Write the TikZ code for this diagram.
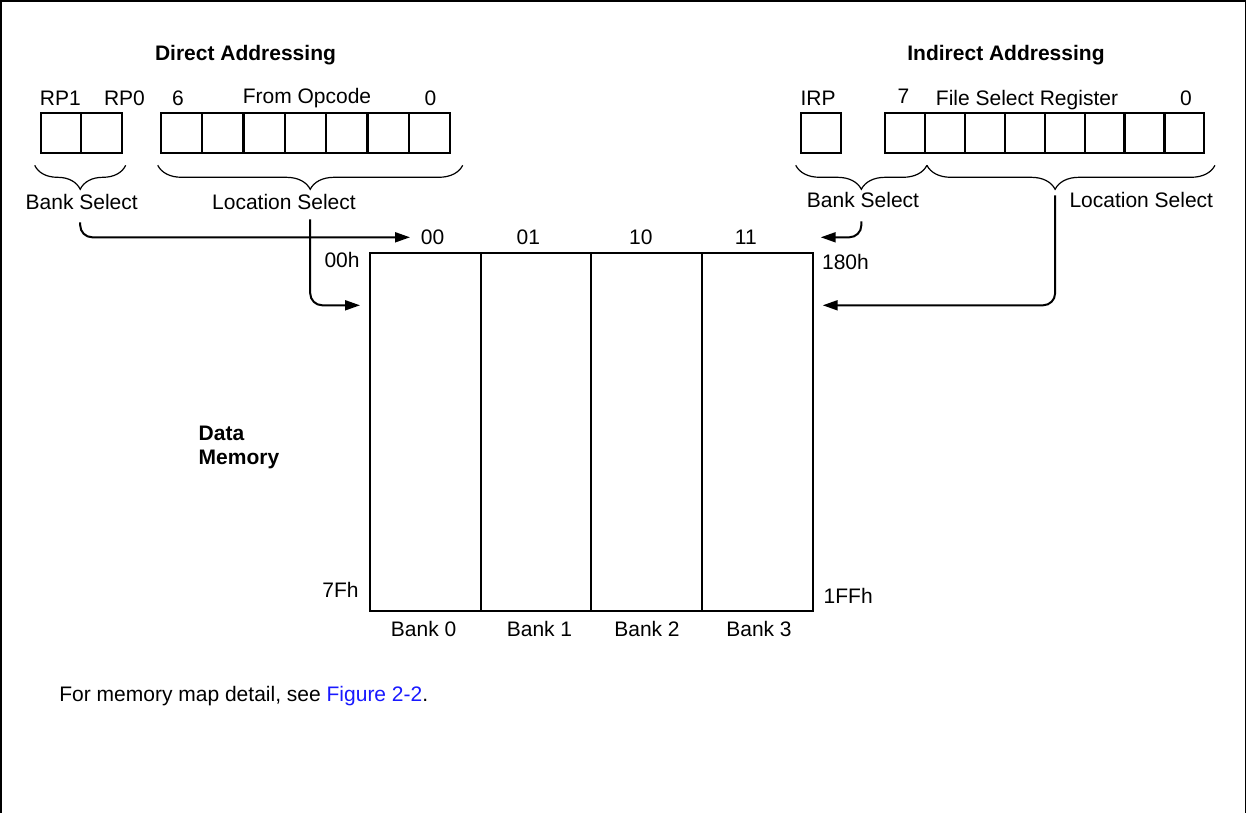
\documentclass[tikz,border=0pt]{standalone}
\usepackage{fontspec}
\setmainfont{Liberation Sans}
\usetikzlibrary{arrows.meta}
\usetikzlibrary{decorations.pathreplacing}
\usetikzlibrary{positioning}
\definecolor{linkblue}{RGB}{25,25,255}

\begin{document}
\begin{tikzpicture}[x=0.5pt,y=-0.5pt,font=\fontsize{10.5}{11.8}\selectfont]
        \tikzstyle{lbl}=[inner sep=0pt, anchor=base]
        \tikzstyle{heading}=[lbl, font=\fontsize{10.5}{11.8}\selectfont\bfseries]
        \tikzstyle{bit}=[draw, line width=1.1pt, minimum height=20.3pt, inner sep=0pt, outer sep=0pt]
        \tikzstyle{bank}=[draw, line width=1.1pt, minimum width=55.35pt, minimum height=178.7pt, inner sep=0pt, outer sep=0pt]
        \tikzstyle{brace}=[decorate, decoration={brace, mirror, amplitude=12pt}, line width=0.6pt]
        \tikzstyle{arr}=[-{Triangle[length=7.5pt,width=5pt]}, line width=1pt, rounded corners=6pt]
        \useasboundingbox (0,0) rectangle (1247,813);
        \draw[line width=0.8pt] (1,813) -- (1,1) -- (1245.5,1) -- (1245.5,813);
        % direct addressing
        \node[heading] (dirT) at (245.5,61) {Direct Addressing};
        \node[bit, minimum width=20.25pt] (rp1) at (60.95,133) {};
        \node[bit, minimum width=20.25pt, right=0pt of rp1] (rp0) {};
        \node[bit, minimum width=20.67pt] (op0) at (181.4,133) {};
        \foreach \i [count=\j from 0] in {1,...,6}
            \node[bit, minimum width=20.67pt, right=0pt of op\j] (op\i) {};
        \node[lbl] (rp1L) at (60.3,105) {RP1};
        \node[lbl] (rp0L) at (124.5,105) {RP0};
        \node[lbl] (d6) at (178,105) {6};
        \node[lbl] (opL) at (307,104) {From Opcode};
        \node[lbl] (d0) at (430.5,105) {0};
        \draw[brace] ([xshift=-3pt,yshift=-6pt]rp1.south west) -- ([xshift=2pt,yshift=-6pt]rp0.south east) coordinate[midway] (bkD);
        \draw[brace] ([xshift=-1.5pt,yshift=-6pt]op0.south west) -- ([xshift=6.3pt,yshift=-6pt]op6.south east) coordinate[midway] (lcD);
        \node[lbl] (bsD) at (81.7,209) {Bank Select};
        \node[lbl] (lsD) at (284,209) {Location Select};
        % indirect addressing
        \node[heading] (indT) at (1006,61) {Indirect Addressing};
        \node[bit, minimum width=20.15pt] (irp) at (820.9,133) {};
        \node[bit, minimum width=19.96pt] (fsr0) at (904.96,133) {};
        \foreach \i [count=\j from 0] in {1,...,7}
            \node[bit, minimum width=19.96pt, right=0pt of fsr\j] (fsr\i) {};
        \node[lbl] (irpL) at (818,105) {IRP};
        \node[lbl] (i7) at (903.5,104) {7};
        \node[lbl] (fsrL) at (1027,105) {File Select Register};
        \node[lbl] (i0) at (1186,105) {0};
        \draw[brace] ([xshift=-2.5pt,yshift=-6pt]irp.south west) -- ([xshift=1pt,yshift=-6pt]fsr0.south east) coordinate[midway] (bkI);
        \draw[brace, decoration={aspect=0.445}] ([xshift=1pt,yshift=-6pt]fsr0.south east) -- ([xshift=5.3pt,yshift=-6pt]fsr7.south east) coordinate[pos=0.445] (lcI);
        \node[lbl] (bsI) at (863,207.5) {Bank Select};
        \node[lbl] (lsI) at (1141.3,207.5) {Location Select};
        % data memory
        \foreach \i in {0,...,3}
            \node[bank] (bank\i) at ({425.35+110.675*\i},432) {};
        \foreach \c/\x in {00/432.5, 01/528.3, 10/640.8, 11/745.8}
            \node[lbl] (col\c) at (\x,244) {\c};
        \foreach \i/\x in {0/423.6, 1/539.5, 2/647, 3/759}
            \node[lbl] (bl\i) at (\x,636.7) {Bank \i};
        \node[lbl, anchor=base east, xshift=-5pt, yshift=-7pt] (a00) at (bank0.north west) {00h};
        \node[lbl, anchor=base west, xshift=4.5pt, yshift=-8pt] (a180) at (bank3.north east) {180h};
        \node[lbl, anchor=base east, xshift=-5.5pt, yshift=6.5pt] (a7F) at (bank0.south west) {7Fh};
        \node[lbl, anchor=base west, xshift=5.3pt, yshift=3.7pt] (a1FF) at (bank3.south east) {1FFh};
        \node[lbl, anchor=north west, align=left, font=\fontsize{10.5}{11.8}\selectfont\bfseries] (dm) at (198.3,425.7) {Data\\Memory};
        \node[lbl, anchor=base west] (note) at (59,701.7) {For memory map detail, see \textcolor{linkblue}{Figure 2-2}.};
        % selection arrows
        \coordinate (bsDe) at ([xshift=20pt,yshift=8pt]bank0.north west);
        \coordinate (inD) at ([xshift=-5pt,yshift=-26pt]bank0.north west);
        \coordinate (bsIe) at ([xshift=4pt,yshift=8pt]bank3.north east);
        \coordinate (inI) at ([xshift=5pt,yshift=-26pt]bank3.north east);
        \draw[arr] ([yshift=-28.5pt]bkD) |- (bsDe);
        \draw[arr] ([yshift=-27pt]lcD) |- (inD);
        \draw[arr] ([yshift=-28pt]bkI) |- (bsIe);
        \draw[arr] ([yshift=-15pt]lcI) |- (inI);
\end{tikzpicture}
\end{document}
